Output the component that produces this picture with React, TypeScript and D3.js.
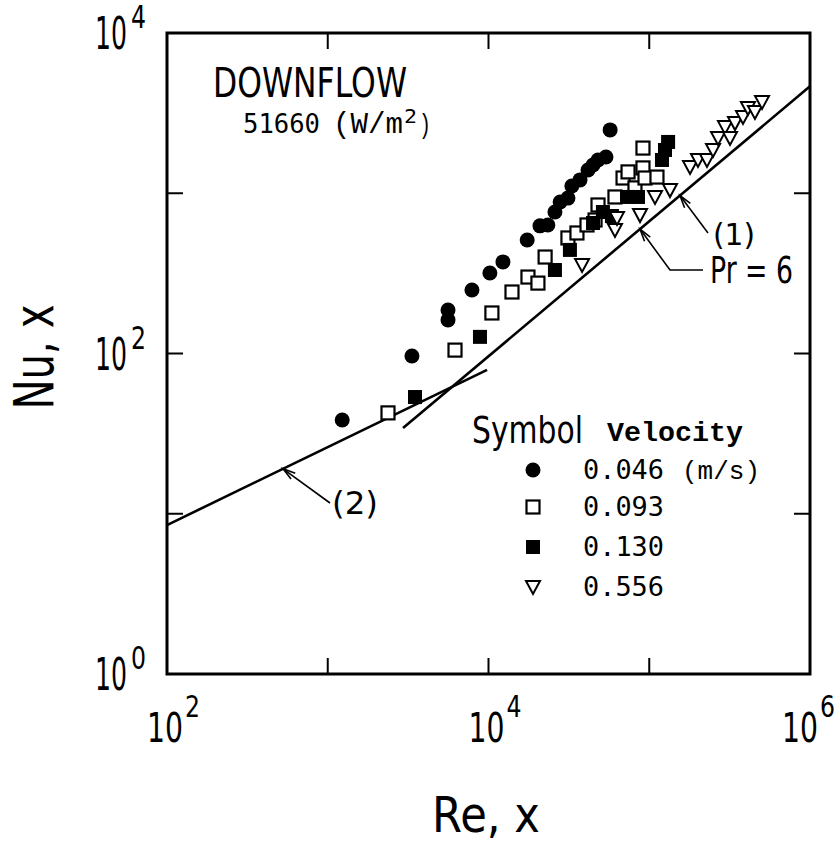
import React from 'react';
import * as d3 from 'd3';

// Local Nusselt number against local Reynolds number, downflow, q = 51660 W/m^2
type Pt = [number, number];

const X_DECADES = [2, 3, 4, 5, 6];
const X_LABELLED = [2, 4, 6];
const Y_DECADES = [0, 1, 2, 3, 4];
const Y_LABELLED = [0, 2, 4];

// velocity 0.046 m/s
const V046: Pt[] = [
  [1230, 38.5], [3340, 96.5], [5600, 187], [5600, 162], [7890, 249], [10200, 318],
  [12300, 373], [17400, 511], [20900, 626], [23400, 634], [25900, 764], [27900, 881],
  [31200, 933], [33000, 1109], [37100, 1211], [41600, 1397], [44700, 1500], [48000, 1613],
  [53800, 1683], [57100, 2484],
];
// velocity 0.093 m/s
const V093: Pt[] = [
  [2370, 42.6], [6190, 105], [10500, 179], [14000, 242], [17600, 300], [20300, 275],
  [22500, 400], [31200, 526], [35500, 565], [41000, 634], [46000, 681], [48000, 845],
  [61200, 948], [68700, 1245], [73800, 1359], [81500, 1080], [91400, 1439], [94100, 1245],
  [111700, 1262], [91400, 1914],
];
// velocity 0.130 m/s
const V130: Pt[] = [
  [3490, 53.5], [8850, 127], [25900, 332], [32100, 443], [44700, 652], [51500, 764],
  [58600, 721], [72700, 948], [85100, 948], [120000, 1613], [125300, 1862], [131000, 2090],
];
// velocity 0.556 m/s
const V556: Pt[] = [
  [38200, 357], [61200, 590], [63000, 701], [87600, 731], [108600, 948], [134600, 1047],
  [179300, 1459], [201000, 1613], [228600, 1613], [249300, 1862], [267900, 2213],
  [296000, 2587], [318000, 2213], [341600, 2742], [383000, 2993], [411000, 3404],
  [454500, 3214], [503000, 3710],
];

// correlation (1), turbulent, Pr = 6 ; correlation (2), laminar
const LINE1: Pt[] = [[2940, 34.3], [1e6, 4645]];
const LINE2: Pt[] = [[100, 8.5], [9800, 79]];
// Reynolds numbers where the leader arrows touch the correlations
const TIP1_RE = 155300;
const TIP_PR_RE = 87600;
const TIP2_RE = 527;

const LEGEND_VALUES = ['0.046', '0.093', '0.130', '0.556'];
const LEGEND_UNIT = '(m/s)';
const TITLE = 'DOWNFLOW';
const HEAT_FLUX = '51660';

const W = 839;
const H = 841;
const SANS = 'DejaVu Sans';
const MONO = 'DejaVu Sans Mono';
const COURIER = 'Liberation Mono';

const x = d3.scaleLog().domain([1e2, 1e6]).range([167, 810]);
const y = d3.scaleLog().domain([1, 1e4]).range([674, 33]);

const line = d3.line<Pt>().x((d) => x(d[0])).y((d) => y(d[1]));

// point on a straight log-log segment at a given Re
function onLine(seg: Pt[], re: number): [number, number] {
  const [a, b] = seg;
  const t = (Math.log10(re) - Math.log10(a[0])) / (Math.log10(b[0]) - Math.log10(a[0]));
  const lnu = Math.log10(a[1]) + t * (Math.log10(b[1]) - Math.log10(a[1]));
  return [x(re), y(Math.pow(10, lnu))];
}

function Txt(props: {
  x: number; y: number; size: number; len?: number; family?: string; weight?: string | number;
  anchor?: 'start' | 'middle' | 'end'; transform?: string; children: React.ReactNode;
}) {
  const { x: tx, y: ty, size, len, family = SANS, weight = 'normal', anchor = 'start', transform } = props;
  return (
    <text
      x={tx}
      y={ty}
      fontSize={size}
      fontFamily={family}
      fontWeight={weight}
      textAnchor={anchor}
      textLength={len}
      lengthAdjust={len ? 'spacingAndGlyphs' : undefined}
      transform={transform}
      fill="#000"
    >
      {props.children}
    </text>
  );
}

function Arrow({ tip, pts }: { tip: [number, number]; pts: [number, number][] }) {
  const all = [tip, ...pts];
  const [tx, ty] = tip;
  const [nx, ny] = pts[0];
  const ang = Math.atan2(ny - ty, nx - tx);
  const hl = 13;
  const spread = 0.28;
  const h1: [number, number] = [tx + hl * Math.cos(ang + spread), ty + hl * Math.sin(ang + spread)];
  const h2: [number, number] = [tx + hl * Math.cos(ang - spread), ty + hl * Math.sin(ang - spread)];
  return (
    <g stroke="#000" fill="none" strokeWidth={1.6}>
      <path d={d3.line()(all) || ''} />
      <path d={`M${h1[0]},${h1[1]}L${tx},${ty}L${h2[0]},${h2[1]}`} />
    </g>
  );
}

const tri = 'M-7,-6L7,-6L0,7Z';

function Marker({ kind, cx, cy }: { kind: number; cx: number; cy: number }) {
  if (kind === 0) return <circle cx={cx} cy={cy} r={7.5} fill="#000" />;
  if (kind === 1)
    return <rect x={cx - 6.5} y={cy - 6.5} width={13} height={13} fill="#fff" stroke="#000" strokeWidth={2.2} />;
  if (kind === 2) return <rect x={cx - 7} y={cy - 7} width={14} height={14} fill="#000" />;
  return <path d={tri} transform={`translate(${cx},${cy})`} fill="#fff" stroke="#000" strokeWidth={2} />;
}

export default function App() {
  const [x0, x1] = x.range();
  const [y0, y1] = y.range();
  const tick = 16;

  const series: { kind: number; data: Pt[] }[] = [
    { kind: 0, data: V046 },
    { kind: 1, data: V093 },
    { kind: 2, data: V130 },
    { kind: 3, data: V556 },
  ];

  const tip1 = onLine(LINE1, TIP1_RE);
  const tipPr = onLine(LINE1, TIP_PR_RE);
  const tip2 = onLine(LINE2, TIP2_RE);

  const legendX = 533;
  const legendRows = [470, 507, 547, 587];

  return (
    <svg width={W} height={H} style={{ position: 'absolute', left: 0, top: 0 }} xmlns="http://www.w3.org/2000/svg">
      <rect width={W} height={H} fill="#fff" />

      {/* correlations */}
      <path d={line(LINE1) || ''} stroke="#000" strokeWidth={2.6} fill="none" />
      <path d={line(LINE2) || ''} stroke="#000" strokeWidth={2.6} fill="none" />

      {/* data */}
      {series.map((s) =>
        s.data.map((d, i) => <Marker key={`${s.kind}-${i}`} kind={s.kind} cx={x(d[0])} cy={y(d[1])} />)
      )}

      {/* frame */}
      <rect x={x0} y={y1} width={x1 - x0} height={y0 - y1} fill="none" stroke="#000" strokeWidth={3} />
      {X_DECADES.map((e) => {
        const px = x(Math.pow(10, e));
        return (
          <g key={`xt${e}`} stroke="#000" strokeWidth={2}>
            <line x1={px} x2={px} y1={y0} y2={y0 - tick} />
            <line x1={px} x2={px} y1={y1} y2={y1 + tick} />
          </g>
        );
      })}
      {Y_DECADES.map((e) => {
        const py = y(Math.pow(10, e));
        return (
          <g key={`yt${e}`} stroke="#000" strokeWidth={2}>
            <line x1={x0} x2={x0 + tick} y1={py} y2={py} />
            <line x1={x1} x2={x1 - tick} y1={py} y2={py} />
          </g>
        );
      })}

      {/* x tick labels */}
      {X_LABELLED.map((e) => {
        const c = Math.min(x(Math.pow(10, e)) - 2, 800);
        return (
          <g key={`xl${e}`}>
            <Txt x={c} y={742} size={41} len={36} anchor="middle">10</Txt>
            <Txt x={c + 20} y={717} size={30} len={15}>{String(e)}</Txt>
          </g>
        );
      })}
      {/* y tick labels */}
      {Y_LABELLED.map((e) => {
        const py = y(Math.pow(10, e));
        return (
          <g key={`yl${e}`}>
            <Txt x={127} y={py + 16} size={44} len={32} anchor="end">10</Txt>
            <Txt x={131} y={py - 5} size={32} len={15}>{String(e)}</Txt>
          </g>
        );
      })}

      {/* axis titles */}
      <Txt x={432} y={832} size={50} len={108}>Re, x</Txt>
      <Txt x={0} y={0} size={55} len={105} anchor="middle" transform="translate(53,357) rotate(-90)">Nu, x</Txt>

      {/* heading */}
      <Txt x={213} y={97} size={40} len={194}>{TITLE}</Txt>
      <Txt x={243} y={133} size={27} len={77} family={MONO}>{HEAT_FLUX}</Txt>
      <Txt x={333} y={133} size={30} len={70} family={COURIER}>(W/m</Txt>
      <Txt x={404} y={123} size={20} len={13} family={MONO}>2</Txt>
      <Txt x={419} y={133} size={28} len={12} family={COURIER}>)</Txt>

      {/* annotations */}
      <Arrow tip={tip1} pts={[[708, 233]]} />
      <Txt x={713} y={245} size={30} len={42}>(1)</Txt>
      <Arrow tip={tipPr} pts={[[670, 270], [703, 270]]} />
      <Txt x={710} y={283} size={38} len={83}>Pr = 6</Txt>
      <Arrow tip={tip2} pts={[[330, 503]]} />
      <Txt x={332} y={514} size={32} len={46}>(2)</Txt>

      {/* legend */}
      <Txt x={472} y={443} size={38} len={111}>Symbol</Txt>
      <Txt x={607} y={441} size={28} len={136} family={COURIER} weight="bold">Velocity</Txt>
      {LEGEND_VALUES.map((v, i) => (
        <g key={`lg${i}`}>
          <Marker kind={i} cx={legendX} cy={legendRows[i]} />
          <Txt x={583} y={legendRows[i] + 9} size={27} len={81} family={MONO}>{v}</Txt>
          {i === 0 && (
            <Txt x={682} y={legendRows[i] + 9} size={26} len={78} family={COURIER}>{LEGEND_UNIT}</Txt>
          )}
        </g>
      ))}
    </svg>
  );
}
